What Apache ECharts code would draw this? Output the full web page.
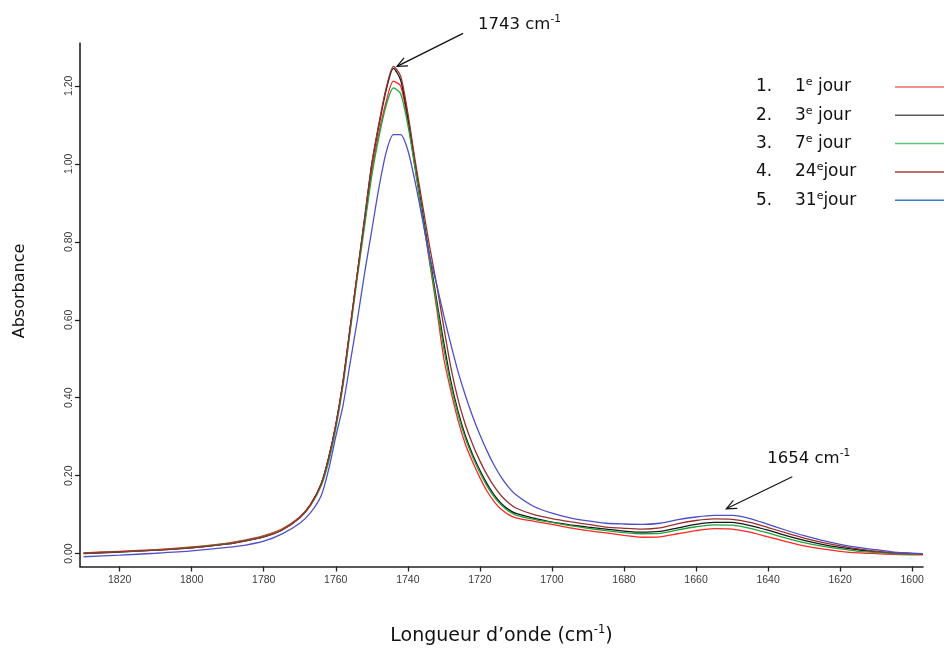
<!DOCTYPE html>
<html><head><meta charset="utf-8">
<script src="https://cdn.jsdelivr.net/npm/echarts@6/dist/echarts.min.js"></script>
<style>html,body{margin:0;padding:0;background:#fff}#c{width:944px;height:651px}</style>
</head><body><div id="c"></div>
<script>
const wavenumbers = [1830,1820,1810,1800,1790,1785,1780,1775,1770,1767,1764,1762,1760,1758,1756,1754,1752,1750,1748,1746,1744,1742,1740,1738,1736,1734,1732,1730,1728,1726,1724,1722,1720,1718,1716,1714,1712,1710,1705,1700,1695,1690,1685,1680,1675,1670,1665,1660,1655,1650,1645,1640,1635,1630,1625,1620,1615,1610,1605,1600,1597];
const jour1 = [0.002,0.006,0.010,0.017,0.027,0.035,0.046,0.063,0.094,0.127,0.180,0.245,0.330,0.440,0.580,0.720,0.850,0.980,1.080,1.160,1.212,1.200,1.110,0.990,0.870,0.750,0.630,0.500,0.415,0.340,0.280,0.235,0.195,0.160,0.133,0.113,0.100,0.092,0.083,0.075,0.066,0.059,0.053,0.047,0.042,0.043,0.051,0.059,0.064,0.063,0.055,0.043,0.031,0.020,0.012,0.006,0.002,0.000,-0.002,-0.003,-0.003];
const jour3 = [0.000,0.004,0.009,0.015,0.025,0.033,0.043,0.060,0.092,0.125,0.180,0.245,0.330,0.440,0.580,0.720,0.860,1.000,1.100,1.190,1.245,1.215,1.120,1.000,0.880,0.765,0.650,0.540,0.440,0.363,0.302,0.254,0.214,0.179,0.150,0.128,0.113,0.103,0.091,0.081,0.074,0.068,0.063,0.058,0.055,0.057,0.066,0.075,0.080,0.080,0.072,0.060,0.046,0.034,0.024,0.016,0.010,0.005,0.002,0.000,-0.002];
const jour7 = [0.001,0.005,0.009,0.016,0.026,0.034,0.044,0.061,0.092,0.124,0.175,0.235,0.320,0.430,0.570,0.710,0.840,0.970,1.070,1.150,1.195,1.180,1.100,0.990,0.870,0.755,0.640,0.525,0.430,0.355,0.295,0.248,0.208,0.173,0.145,0.124,0.109,0.099,0.088,0.080,0.072,0.065,0.059,0.054,0.051,0.052,0.061,0.069,0.074,0.073,0.065,0.053,0.040,0.028,0.019,0.012,0.006,0.003,0.000,-0.002,-0.002];
const jour24 = [0.001,0.005,0.009,0.015,0.025,0.033,0.043,0.060,0.092,0.125,0.180,0.245,0.330,0.440,0.580,0.720,0.860,1.000,1.105,1.195,1.250,1.225,1.130,1.010,0.900,0.790,0.690,0.580,0.475,0.393,0.330,0.280,0.238,0.202,0.172,0.148,0.130,0.117,0.100,0.090,0.082,0.075,0.068,0.065,0.063,0.066,0.077,0.085,0.089,0.088,0.080,0.067,0.053,0.040,0.029,0.020,0.012,0.006,0.002,0.000,-0.001];
const jour31 = [-0.008,-0.004,0.001,0.007,0.016,0.022,0.032,0.050,0.078,0.105,0.150,0.215,0.300,0.380,0.490,0.600,0.720,0.830,0.940,1.030,1.075,1.075,1.035,0.955,0.860,0.765,0.690,0.610,0.535,0.465,0.405,0.352,0.305,0.263,0.226,0.195,0.170,0.151,0.121,0.104,0.092,0.084,0.078,0.076,0.075,0.078,0.087,0.094,0.098,0.098,0.090,0.075,0.060,0.046,0.034,0.024,0.016,0.010,0.004,0.001,0.000];

const seriesNames = ['1e jour','3e jour','7e jour','24e jour','31e jour'];
const dayNumbers = ['1','3','7','24','31'];
const seriesValues = [jour1, jour3, jour7, jour24, jour31];
const lineColors = ['#ff2626','#161616','#1fa53c','#9a2f2f','#4f4fc8'];
const legendColors = ['#f06a6a','#5a5a5a','#5cc47e','#a84040','#3a78c8'];
const yTicks = [0, 0.2, 0.4, 0.6, 0.8, 1.0, 1.2];
const xTicks = [1600,1620,1640,1660,1680,1700,1720,1740,1760,1780,1800,1820];
const peakLabels = [{wn:1743, abs:1.25, text:'1743 cm'}, {wn:1651.6, abs:0.115, text:'1654 cm'}];

const FONT = '"DejaVu Sans", "Open Sans", sans-serif';
const TICKFONT = '"Liberation Sans Narrow", "Liberation Sans", Arial, sans-serif';

const chart = echarts.init(document.getElementById('c'), null, {renderer:'canvas'});

const series = seriesNames.map((n, i) => ({
  name: n,
  type: 'line',
  symbol: 'none',
  smooth: 0.25,
  data: wavenumbers.map((w, k) => [w, seriesValues[i][k]]),
  lineStyle: {color: lineColors[i], width: 1.3},
  itemStyle: {color: lineColors[i]},
  z: 2 + i
}));

const option = {
  animation: false,
  backgroundColor: '#ffffff',
  grid: {left: 80, right: 21, top: 43, bottom: 73, containLabel: false},
  xAxis: {
    type: 'value', inverse: true, min: 1597, max: 1831,
    name: '{a|Longueur d\u2019onde (cm}{s|-1}{a|)}',
    nameLocation: 'middle', nameGap: 58,
    nameTextStyle: {
      rich: {
        a: {fontFamily: FONT, fontSize: 19, color: '#111', lineHeight: 24},
        s: {fontFamily: FONT, fontSize: 11.5, color: '#111', lineHeight: 13, verticalAlign: 'top'}
      }
    },
    axisLine: {show: true, onZero: false, lineStyle: {color: '#222', width: 1.6}},
    axisTick: {show: true, length: 5, customValues: xTicks, lineStyle: {color: '#222', width: 1.3}},
    axisLabel: {customValues: xTicks, margin: 8, fontFamily: TICKFONT, fontSize: 10.5, color: '#3a3a3a',
      formatter: v => String(v)},
    splitLine: {show: false}
  },
  yAxis: {
    type: 'value', min: -0.033, max: 1.31,
    axisLine: {show: true, onZero: false, lineStyle: {color: '#222', width: 1.6}},
    axisTick: {show: true, length: 5, customValues: yTicks, lineStyle: {color: '#222', width: 1.3}},
    axisLabel: {customValues: yTicks, rotate: 90, margin: 5, fontFamily: TICKFONT, fontSize: 10.5, color: '#3a3a3a',
      formatter: v => v.toFixed(2)},
    splitLine: {show: false}
  },
  legend: {
    orient: 'vertical', left: 756, top: 77, padding: 0,
    align: 'right', itemWidth: 50, itemHeight: 14, itemGap: 9.8,
    selectedMode: false,
    icon: 'path://M0,0L100,0L100,3L0,3Z',
    data: seriesNames.map((n, i) => ({name: n, itemStyle: {color: legendColors[i]}})),
    formatter: name => {
      const i = seriesNames.indexOf(name);
      return '{n|' + (i + 1) + '.}{t|' + dayNumbers[i] + '}{s|e}{t|' + (i < 3 ? ' jour' : 'jour') + '}';
    },
    textStyle: {
      width: 134, color: '#111', fontFamily: FONT, fontSize: 17,
      rich: {
        n: {width: 39, align: 'left', fontFamily: FONT, fontSize: 17, lineHeight: 20, color: '#111'},
        t: {align: 'left', fontFamily: FONT, fontSize: 17, lineHeight: 20, color: '#111'},
        s: {align: 'left', fontFamily: FONT, fontSize: 11, lineHeight: 11, verticalAlign: 'top', color: '#111'}
      }
    }
  },
  series: series
};
chart.setOption(option);

function arrow(tail, tip) {
  const dx = tail[0] - tip[0], dy = tail[1] - tip[1];
  const L = Math.sqrt(dx * dx + dy * dy);
  const ux = dx / L, uy = dy / L;
  const h = 11, a = 24 * Math.PI / 180;
  const r = (s) => [tip[0] + h * (ux * Math.cos(s) - uy * Math.sin(s)), tip[1] + h * (ux * Math.sin(s) + uy * Math.cos(s))];
  const p1 = r(a), p2 = r(-a);
  const st = {stroke: '#111', lineWidth: 1.2};
  return [
    {type: 'line', shape: {x1: tail[0], y1: tail[1], x2: tip[0], y2: tip[1]}, style: st, z: 20},
    {type: 'polyline', shape: {points: [p1, tip, p2]}, style: Object.assign({fill: null}, st), z: 20}
  ];
}

const tip1 = chart.convertToPixel({gridIndex: 0}, [peakLabels[0].wn, peakLabels[0].abs]);
const tip2 = chart.convertToPixel({gridIndex: 0}, [peakLabels[1].wn, peakLabels[1].abs]);
const annRich = {
  a: {fontFamily: FONT, fontSize: 16.5, lineHeight: 22, fill: '#111', color: '#111'},
  s: {fontFamily: FONT, fontSize: 10.5, lineHeight: 12, verticalAlign: 'top', fill: '#111', color: '#111'}
};
const graphics = [].concat(
  arrow([tip1[0] + 66, tip1[1] - 33], tip1),
  arrow([tip2[0] + 66, tip2[1] - 32], tip2),
  [
    {type: 'text', x: tip1[0] + 81, y: tip1[1] - 42, z: 20,
      style: {text: '{a|' + peakLabels[0].text + '}{s|-1}', rich: annRich, align: 'left', verticalAlign: 'middle', fill: '#111'}},
    {type: 'text', x: tip2[0] + 41, y: tip2[1] - 50, z: 20,
      style: {text: '{a|' + peakLabels[1].text + '}{s|-1}', rich: annRich, align: 'left', verticalAlign: 'middle', fill: '#111'}},
    {type: 'text', x: 20, y: 291, rotation: Math.PI / 2, z: 20,
      style: {text: 'Absorbance', fontFamily: 'DejaVu Sans', fontSize: 16, align: 'center', verticalAlign: 'middle', fill: '#111'}}
  ]
);
chart.setOption({graphic: graphics});
</script>
</body></html>
